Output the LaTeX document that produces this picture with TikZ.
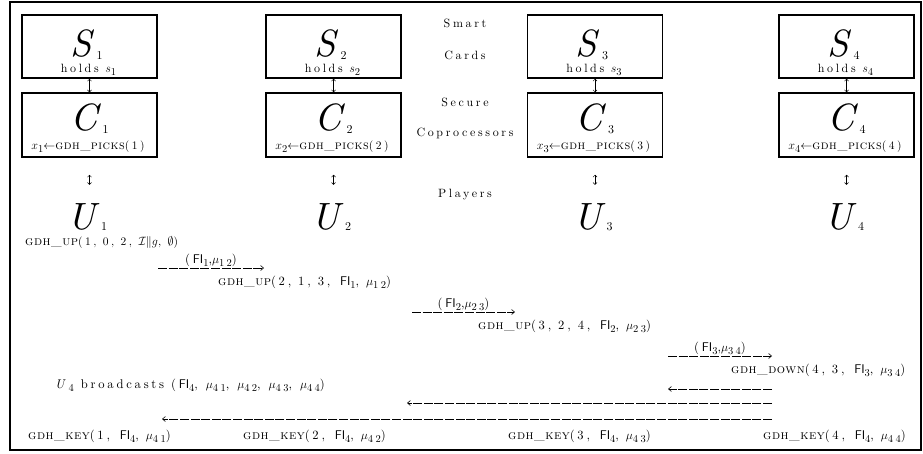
\documentclass[tikz,border=0pt]{standalone}
\usepackage{amsmath,amssymb}
\usepackage{fontspec}
\setmainfont{lmroman10-regular.otf}[
  ItalicFont=lmroman10-italic.otf,
  BoldFont=lmroman10-bold.otf,
  SmallCapsFont=lmromancaps10-regular.otf]
\newfontfamily\spaced{lmroman10-regular.otf}[
  LetterSpace=22,
  ItalicFont=lmroman10-italic.otf]
\newfontfamily\capsfont{lmromancaps10-regular.otf}[LetterSpace=4]
\usetikzlibrary{arrows.meta, positioning}

% big letter with a lowered index
\newcommand{\bigsub}[3][-3pt]{{\fontsize{38}{38}\selectfont\itshape #2}\kern5pt\raisebox{#1}{\fontsize{12}{12}\selectfont #3}}
% lowered index in running text
\newcommand{\ix}[1]{\raisebox{-3pt}{\fontsize{10.5}{10.5}\selectfont #1}}
% protocol operation name
\def\opsize{13pt}
\newcommand{\op}[1]{{\capsfont\fontsize{\opsize}{\opsize}\selectfont gdh\_#1}}

\begin{document}
\begin{tikzpicture}[x=1pt, y=-1pt,
  card/.style={draw, line width=1.5pt, minimum width=135pt, minimum height=63pt, inner sep=0pt},
  glyph/.style={inner sep=0pt, anchor=base},
  lbl/.style={font=\spaced\fontsize{12}{14}\selectfont, inner sep=0pt, anchor=base},
  msg/.style={font=\spaced\fontsize{12.6}{14}\selectfont, inner sep=0pt, anchor=base west},
  tag/.style={font=\spaced\fontsize{12.6}{14}\selectfont, inner sep=1pt, above},
  flow/.style={line width=0.6pt, dash pattern=on 9pt off 1.6pt, -{Straight Barb[length=3pt,width=5pt]}},
  link/.style={line width=0.5pt, {Straight Barb[length=2pt,width=4pt]}-{Straight Barb[length=2pt,width=4pt]}}]
  \useasboundingbox (0,0) rectangle (923,453);
  % Frame
  \draw[line width=1.6pt] (10,2) rectangle (921,450);
  % Smart cards, coprocessors and players
  \foreach \i/\x in {1/89.5, 2/333.5, 3/595, 4/846.5} {
    \node[card] (S\i) at (\x,46.5) {};
    \node[card, minimum height=64pt] (C\i) at (\x,125) {};
    \node[glyph] (Sg\i) at (\x-3,56) {\bigsub{S}{\i}};
    \node[lbl] (Sh\i) at (\x-1,72) {holds $s$\ix{\i}};
    \node[glyph] (Cg\i) at (\x,130) {\bigsub{C}{\i}};
    \node[lbl, font=\spaced\fontsize{11.5}{12}\selectfont] (Cp\i) at (\x-1.5,149)
      {\def\opsize{12.5pt}$x$\ix{\i}$\leftarrow$\op{picks}(\i)};
    \node[glyph] (U\i) at (\x-2,229) {\bigsub[-1pt]{U}{\i}};
    \draw[link] (S\i) -- (C\i);
    \draw[link, shorten <=17pt, shorten >=18pt] (C\i.south) -- (C\i.south |- U\i.north);
  }
  % Row labels
  \node[lbl] (smart) at (465,27) {Smart};
  \node[lbl] (cards) at (465,59) {Cards};
  \node[lbl] (secure) at (465,106) {Secure};
  \node[lbl] (copro) at (465,136) {Coprocessors};
  \node[lbl] (players) at (465,197) {Players};
  % Upflow
  \node[msg, font=\spaced\fontsize{11.5}{14}\selectfont] (up1) at (25,245) {\op{up}(1, 0, 2, $\mathcal{I}\|g$, $\emptyset$)};
  \coordinate (a1s) at (158,268);
  \coordinate (a1e) at (264,268);
  \draw[flow] (a1s) -- node[tag] {(\textsf{FI}\ix{1},$\mu$\ix{12})} (a1e);
  \node[msg] (up2) at (218,285) {\op{up}(2, 1, 3, \textsf{FI}\ix{1}, $\mu$\ix{12})};
  \coordinate (a2s) at (412,312);
  \coordinate (a2e) at (515,312);
  \draw[flow] (a2s) -- node[tag] {(\textsf{FI}\ix{2},$\mu$\ix{23})} (a2e);
  \node[msg] (up3) at (478,329) {\op{up}(3, 2, 4, \textsf{FI}\ix{2}, $\mu$\ix{23})};
  \coordinate (a3s) at (668,356);
  \coordinate (a3e) at (772,356);
  \draw[flow] (a3s) -- node[tag] {(\textsf{FI}\ix{3},$\mu$\ix{34})} (a3e);
  \node[msg] (down) at (731,373) {\op{down}(4, 3, \textsf{FI}\ix{3}, $\mu$\ix{34})};
  % Broadcast
  \node[msg] (bcast) at (55,388) {\textit{U}\ix{4} broadcasts (\textsf{FI}\ix{4},\hspace{8pt}$\mu$\ix{41},\hspace{8pt}$\mu$\ix{42},\hspace{8pt}$\mu$\ix{43},\hspace{8pt}$\mu$\ix{44})};
  \coordinate (b0) at (772,389);
  \coordinate (b1) at (668,389);
  \coordinate (c0) at (772,403);
  \coordinate (c1) at (407,403);
  \coordinate (d0) at (772,419);
  \coordinate (d1) at (162,419);
  \draw[flow] (b0) -- (b1);
  \draw[flow] (c0) -- (c1);
  \draw[flow] (d0) -- (d1);
  % Keys
  \node[msg] (key1) at (28,439) {\op{key}(1, \textsf{FI}\ix{4}, $\mu$\ix{41})};
  \node[msg] (key2) at (243,439) {\op{key}(2, \textsf{FI}\ix{4}, $\mu$\ix{42})};
  \node[msg] (key3) at (508,439) {\op{key}(3, \textsf{FI}\ix{4}, $\mu$\ix{43})};
  \node[msg] (key4) at (763,439) {\op{key}(4, \textsf{FI}\ix{4}, $\mu$\ix{44})};
\end{tikzpicture}
\end{document}
